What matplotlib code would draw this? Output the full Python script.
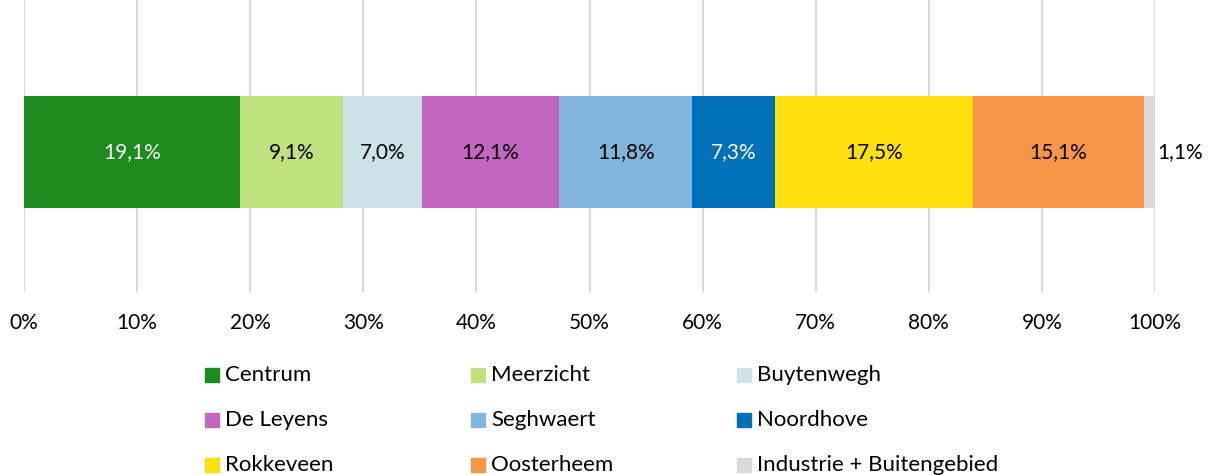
import matplotlib.pyplot as plt
from matplotlib.patches import Rectangle

plt.rcParams['font.family'] = ['Lato', 'DejaVu Sans']

wijken = ["Centrum", "Meerzicht", "Buytenwegh", "De Leyens", "Seghwaert",
          "Noordhove", "Rokkeveen", "Oosterheem", "Industrie + Buitengebied"]
aandeel = [19.1, 9.1, 7.0, 12.1, 11.8, 7.3, 17.5, 15.1, 1.1]
kleuren = ["#1C8A1C", "#C0E27E", "#CBE3E6", "#C266C2", "#80B6DC",
           "#0071B9", "#FDE00D", "#F79646", "#D9D9D9"]
tekstkleur = ["white", "black", "black", "black", "black",
              "white", "black", "black", "black"]
ticks = list(range(0, 101, 10))

W, H = 1210, 475
fig = plt.figure(figsize=(W / 100, H / 100), dpi=100)
ax = fig.add_axes([24 / W, 1 - 292 / H, (1155 - 24) / W, 292 / H])

left = 0
for naam, v, c, tc in zip(wijken, aandeel, kleuren, tekstkleur):
    ax.barh(0, v, left=left, height=0.5, color=c, zorder=2)
    lab = f"{v:.1f}%".replace(".", ",")
    if v < 3:
        ax.text(left + v + 0.1, 0, lab, ha="left", va="center",
                fontsize=15, color=tc, zorder=3)
    else:
        ax.text(left + v / 2, 0, lab, ha="center", va="center",
                fontsize=15, color=tc, zorder=3)
    left += v

ax.set_xlim(0, 100)
ax.set_ylim(-0.625, 0.679)
ax.set_xticks(ticks)
ax.set_xticklabels([f"{t}%" for t in ticks], fontsize=15)
ax.tick_params(axis="x", length=0, pad=15)
ax.set_yticks([])
ax.grid(axis="x", color="#D9D9D9", linewidth=1.5, zorder=0)
for s in ax.spines.values():
    s.set_visible(False)

# legenda: 3 kolommen, rij voor rij
for i, (naam, c) in enumerate(zip(wijken, kleuren)):
    col, row = i % 3, i // 3
    px = 205 + col * 266
    py = 375 + row * 45
    fig.add_artist(Rectangle((px / W, 1 - (py + 7) / H), 14 / W, 14 / H,
                             color=c, transform=fig.transFigure))
    fig.text((px + 20) / W, 1 - py / H, naam, fontsize=16,
             ha="left", va="center")

fig.savefig("out.png", dpi=100)
